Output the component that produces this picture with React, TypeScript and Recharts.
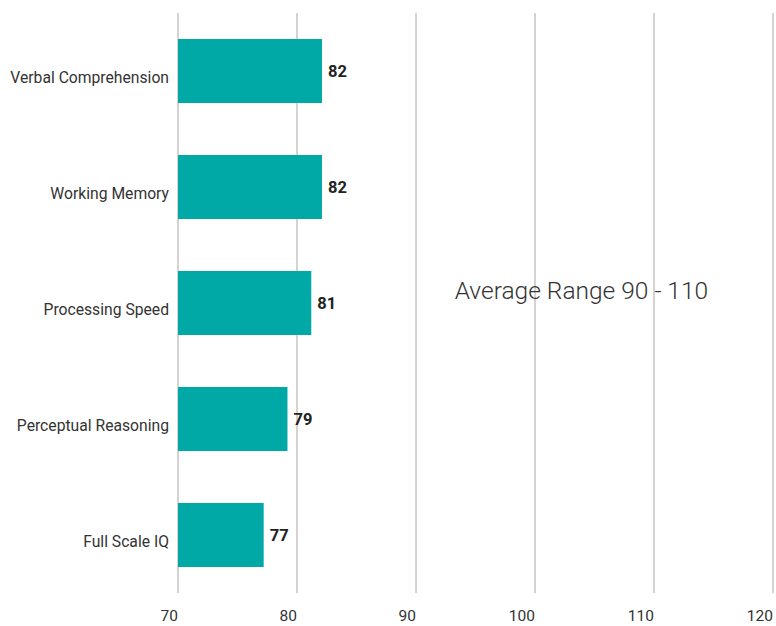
import React from "react";
import { BarChart, Bar, XAxis, YAxis, CartesianGrid, LabelList, ReferenceDot } from "recharts";

const categories = ["Verbal Comprehension", "Working Memory", "Processing Speed", "Perceptual Reasoning", "Full Scale IQ"];
const scores = [82.1, 82.1, 81.2, 79.2, 77.2];
const scoreLabels = ["82", "82", "81", "79", "77"];
const xTicks = [70, 80, 90, 100, 110, 120];
const annotation = "Average Range 90 - 110";

const data = categories.map((name, i) => ({ name, score: scores[i], label: scoreLabels[i] }));

const FONT = "Roboto, 'Noto Sans', sans-serif";

export default function App() {
  return (
    <div style={{ position: "absolute", left: 0, top: 0, background: "#fff" }}>
      <BarChart
        width={776}
        height={626}
        data={data}
        layout="vertical"
        margin={{ top: 13, right: 3, bottom: 0, left: 0 }}
      >
        <CartesianGrid horizontal={false} vertical={true} stroke="#aca6a3" strokeWidth={1} />
        <XAxis
          type="number"
          domain={[70, 120]}
          ticks={xTicks}
          allowDataOverflow
          axisLine={false}
          tickLine={false}
          tickSize={0}
          tickMargin={17}
          height={33}
          interval={0}
          tick={{ fill: "#333", fontSize: 15.5, fontFamily: FONT, textAnchor: "end" }}
        />
        <YAxis
          type="category"
          dataKey="name"
          width={178}
          axisLine={false}
          tickLine={false}
          tickSize={0}
          tickMargin={9}
          tick={{ fill: "#333", fontSize: 15.7, fontFamily: FONT, dy: 6 }}
        />
        <Bar dataKey="score" fill="#00a9a6" barSize={64} isAnimationActive={false}>
          <LabelList
            dataKey="label"
            position="right"
            offset={6}
            style={{ fill: "#222", fontSize: 16.5, fontWeight: 700, fontFamily: FONT }}
          />
        </Bar>
        <ReferenceDot
          x={103.9}
          y="Processing Speed"
          r={0}
          fill="none"
          stroke="none"
          label={{ value: annotation, position: "center", dy: -13, fill: "#333", fontSize: 24.5, fontWeight: 300, fontFamily: FONT }}
        />
      </BarChart>
    </div>
  );
}
